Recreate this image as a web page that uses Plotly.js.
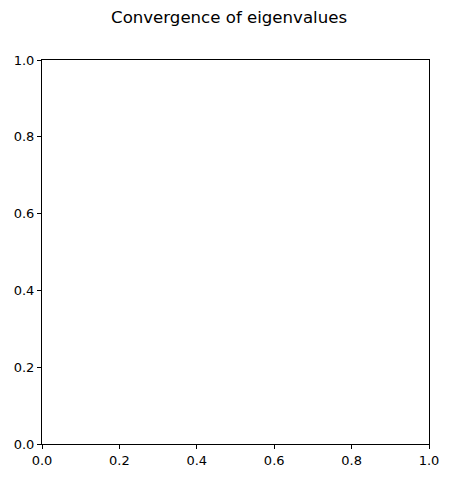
<!DOCTYPE html>
<html>
<head>
<meta charset="utf-8">
<script src="https://cdn.plot.ly/plotly-3.0.1.min.js"></script>
<style>html,body{margin:0;padding:0;background:#fff;}#chart{width:450px;height:478px;}</style>
</head>
<body>
<div id="chart"></div>
<script>
const chartTitle = "Convergence of eigenvalues";
const xValues = [];
const yValues = [];
const xTicks = [0.0, 0.2, 0.4, 0.6, 0.8, 1.0];
const yTicks = [0.0, 0.2, 0.4, 0.6, 0.8, 1.0];
const xTickLabels = ["0.0", "0.2", "0.4", "0.6", "0.8", "1.0"];
const yTickLabels = ["0.0", "0.2", "0.4", "0.6", "0.8", "1.0"];

const font = "DejaVu Sans, sans-serif";
const axisCommon = {
  range: [0, 1],
  showgrid: false,
  zeroline: false,
  showline: true,
  linecolor: "#000",
  linewidth: 1,
  mirror: true,
  ticks: "outside",
  ticklen: 4,
  tickwidth: 1,
  tickcolor: "#000",
  tickfont: {family: font, size: 13, color: "#000"},
  fixedrange: true
};

Plotly.newPlot("chart", [{
  x: xValues, y: yValues, type: "scatter", mode: "lines", showlegend: false
}], {
  width: 450, height: 478,
  margin: {l: 42, r: 21, t: 60, b: 34, pad: 0},
  paper_bgcolor: "#fff", plot_bgcolor: "#fff",
  title: {text: chartTitle, font: {family: font, size: 16.6, color: "#000"},
          x: 0.509, xref: "container", y: 0.965, yref: "container", xanchor: "center", yanchor: "middle"},
  xaxis: Object.assign({}, axisCommon, {tickvals: xTicks, ticktext: xTickLabels}),
  yaxis: Object.assign({}, axisCommon, {tickvals: yTicks, ticktext: yTickLabels})
}, {staticPlot: true});
</script>
</body>
</html>
